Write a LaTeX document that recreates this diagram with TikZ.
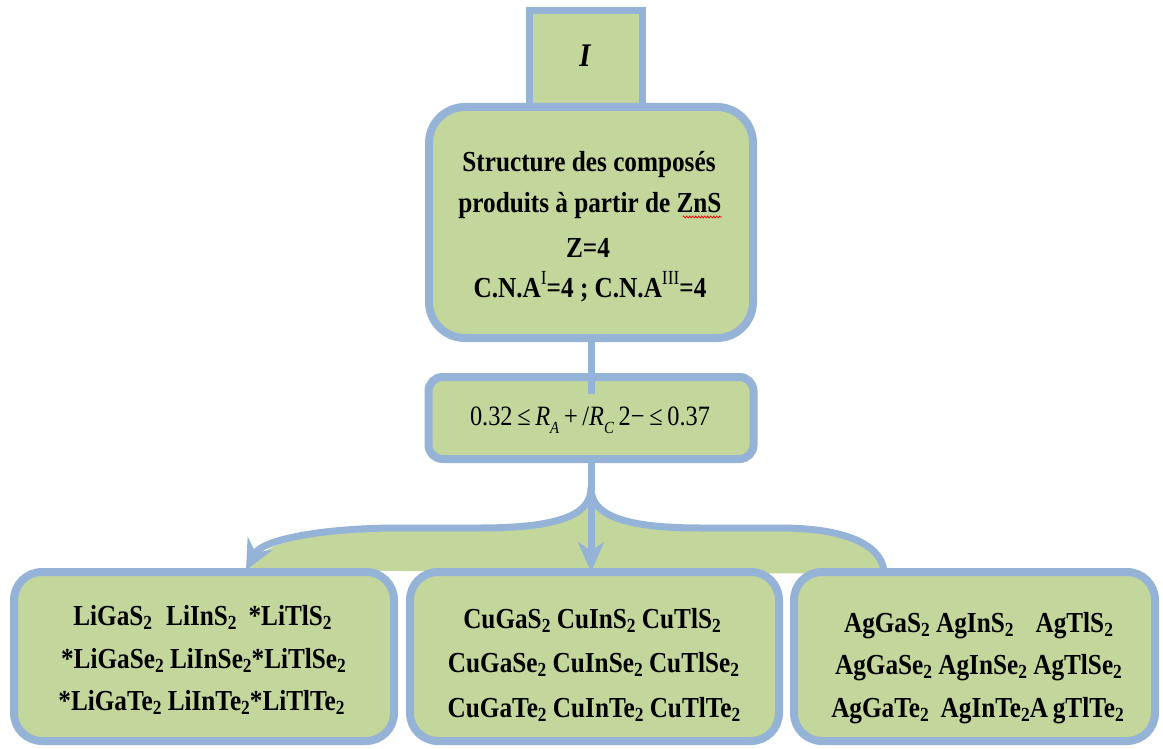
\documentclass[tikz,border=0pt]{standalone}
\usepackage{fontspec}
\setmainfont{Liberation Serif}[FakeStretch=0.87]
\usetikzlibrary{arrows.meta,decorations.pathmorphing}
\definecolor{bfill}{HTML}{C3D69B}
\definecolor{bline}{HTML}{95B3D7}
\newcommand{\sbs}[1]{\raisebox{-0.15em}{\fontsize{20}{20}\selectfont #1}}
\newcommand{\fsb}[1]{\raisebox{-0.32em}{\fontsize{17}{17}\selectfont #1}}
\newcommand{\sps}[1]{\raisebox{0.42em}{\fontsize{20}{20}\selectfont\mdseries #1}}
\begin{document}
\begin{tikzpicture}[x=1pt,y=-1pt,
  box/.style={draw=bline, fill=bfill, line width=8pt, rounded corners=#1, inner sep=0pt},
  box/.default=20pt,
  txt/.style={anchor=base, inner sep=0pt, font=\fontsize{29}{29}\selectfont\bfseries},
  link/.style={draw=bline, line width=7pt}]
\useasboundingbox (0,0) rectangle (1163,749);

% top box I
\node[box=0pt, line width=7pt, minimum width=113pt, minimum height=110pt] (topbox) at (586,65.5) {};
% main box
\node[box=36pt, minimum width=324pt, minimum height=231pt] (big) at (591,222.5) {};
\node[anchor=base, inner sep=0pt, font=\fontsize{33}{33}\selectfont\bfseries\itshape] (tI) at (585,67) {I};
\node[txt] (l1) at (589,172) {Structure des composés};
\node[txt] (l2) at (590,213) {produits à partir de ZnS};
\node[txt] (l3) at (588,257) {Z=4};
\node[txt] (l4) at (590,297) {C.N.A\sps{I}=4 ; C.N.A\sps{III}=4};
\draw[red, line width=0.7pt, decorate, decoration={snake, amplitude=1pt, segment length=3pt}]
  ([xshift=-39pt,yshift=-4pt]l2.base east) -- ([yshift=-4pt]l2.base east);

% formula box
\node[box=14pt, minimum width=325pt, minimum height=82pt] (form) at (591,418) {};
\node[anchor=base, inner sep=0pt, font=\fontsize{28}{28}\selectfont] (fx) at (590,425)
  {0.32\,≤\,\textit{R}\fsb{\textit{A}}\,+\,/\textit{R}\fsb{\textit{C}}\,2−\,≤\,0.37};
\coordinate (c1) at (591,394);
\draw[link] (big.south) -- (c1);

% brace
\coordinate (lt) at (246,570);
\coordinate (pk) at (591,488);
\coordinate (re) at (884,574);
\coordinate (cb) at (591,572);
\fill[bfill] (lt) .. controls (262,540) and (320,528) .. (400,528) -- (480,528)
  .. controls (566,528) and (591,512) .. (pk)
  .. controls (591,512) and (616,528) .. (700,528) -- (780,528)
  .. controls (852,528) and (884,548) .. (re) -- cycle;
\draw[link, line join=round, {Stealth[length=30pt,width=28pt,inset=10pt]}-]
  (lt) .. controls (262,540) and (320,528) .. (400,528) -- (480,528)
  .. controls (566,528) and (591,512) .. (pk)
  .. controls (591,512) and (616,528) .. (700,528) -- (780,528)
  .. controls (852,528) and (884,548) .. (re);
\draw[link] (form.south) -- (pk);
\draw[link, -{Stealth[length=30pt,width=26pt,inset=9pt]}] (pk) -- (cb);

% bottom boxes
\node[box=28pt, minimum width=380pt, minimum height=169pt] (bl) at (204,656.5) {};
\node[box=28pt, minimum width=369pt, minimum height=169pt] (bm) at (594.5,656.5) {};
\node[box=28pt, minimum width=361pt, minimum height=169pt] (br) at (974.5,656.5) {};

\node[txt] (a1) at (202.5,625) {LiGaS\sbs{2}\hspace{14pt}LiInS\sbs{2}\hspace{12pt}*LiTlS\sbs{2}};
\node[txt] (a2) at (203.5,668) {*LiGaSe\sbs{2} LiInSe\sbs{2}*LiTlSe\sbs{2}};
\node[txt] (a3) at (201.5,710) {*LiGaTe\sbs{2} LiInTe\sbs{2}*LiTlTe\sbs{2}};

\node[txt] (b1) at (592,628) {CuGaS\sbs{2} CuInS\sbs{2} CuTlS\sbs{2}};
\node[txt] (b2) at (593.5,672) {CuGaSe\sbs{2} CuInSe\sbs{2} CuTlSe\sbs{2}};
\node[txt] (b3) at (594,717) {CuGaTe\sbs{2} CuInTe\sbs{2} CuTlTe\sbs{2}};

\node[txt] (d1) at (978.5,632) {AgGaS\sbs{2} AgInS\sbs{2}\hspace{22pt}AgTlS\sbs{2}};
\node[txt] (d2) at (978.5,674) {AgGaSe\sbs{2} AgInSe\sbs{2} AgTlSe\sbs{2}};
\node[txt] (d3) at (977.5,717) {AgGaTe\sbs{2}\hspace{12pt}AgInTe\sbs{2}A\,gTlTe\sbs{2}};
\end{tikzpicture}
\end{document}
